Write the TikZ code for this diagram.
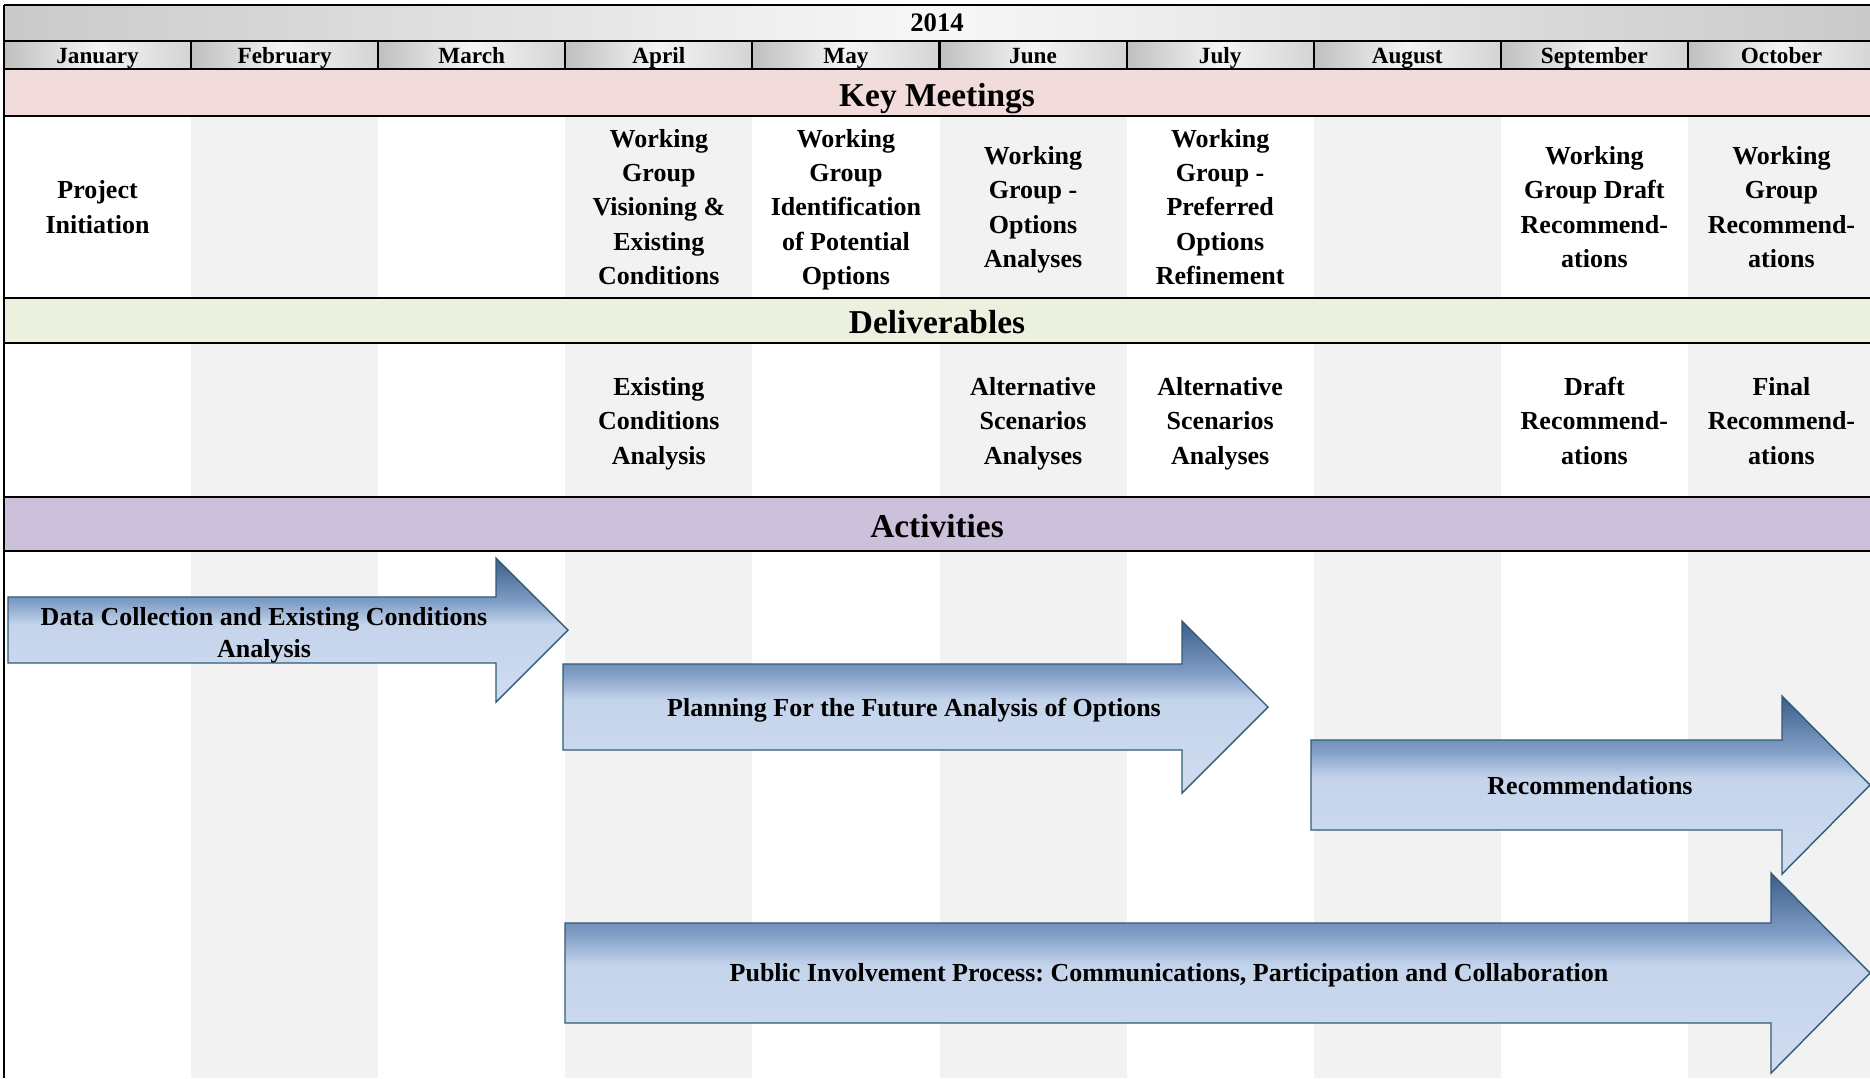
\documentclass[tikz,border=0pt]{standalone}
\usepackage{fontspec}
\setmainfont{Liberation Serif}
\frenchspacing

\definecolor{meetpink}{HTML}{F2DCDB}
\definecolor{delgreen}{HTML}{EBF1DE}
\definecolor{actpurple}{HTML}{CCC0DA}
\definecolor{colgray}{HTML}{F2F2F2}
\definecolor{arrowline}{HTML}{2F5C76}
\definecolor{arrowtop}{HTML}{3B5E89}
\definecolor{arrowmid}{HTML}{7F9CC5}
\definecolor{arrowlight}{HTML}{C4D4EB}
\definecolor{arrowbot}{HTML}{D0DCF0}

\pgfdeclareverticalshading{actshade}{100bp}{color(0bp)=(arrowbot); color(25bp)=(arrowbot);
  color(52bp)=(arrowlight); color(60bp)=(arrowmid); color(75bp)=(arrowtop); color(100bp)=(arrowtop)}

\newcommand{\cellfont}{\fontsize{7.4}{9.8}\selectfont\bfseries}
\newcommand{\monthfont}{\fontsize{6.6}{8}\selectfont\bfseries}
\newcommand{\yearfont}{\fontsize{7.6}{9}\selectfont\bfseries}
\newcommand{\bandfont}{\fontsize{9.5}{11}\selectfont\bfseries}

% body left, head start, tip, centre y, body half height, head half height
\newcommand{\actarrow}[6]{%
  \draw[actarrow] (#1,#4-#5) -- (#2,#4-#5) -- (#2,#4-#6) -- (#3,#4)
    -- (#2,#4+#6) -- (#2,#4+#5) -- (#1,#4+#5) -- cycle;}

\begin{document}
\begin{tikzpicture}[x=0.1mm,y=-0.1mm,
    cell/.style={align=center,font=\cellfont,inner sep=0pt},
    month/.style={font=\monthfont,inner sep=0pt,anchor=base},
    band/.style={font=\bandfont,inner sep=0pt,anchor=base},
    actarrow/.style={shading=actshade,draw=arrowline,line width=0.4pt,line join=miter},
    acttext/.style={align=center,font=\fontsize{7.4}{9.1}\selectfont\bfseries,inner sep=0pt},
    rule/.style={line width=0.6pt}]
    \useasboundingbox (0,0) rectangle (1870,1078);
    \fill[white] (0,0) rectangle (1870,1078);

    % Header rows
    \shade[left color=gray!42,right color=gray!42,middle color=gray!6] (4,5) rectangle (1870,41);
    \foreach \i in {1,...,10} {
        \shade[left color=gray!50,right color=gray!34,middle color=gray!8]
            ({4+187.1*(\i-1)},41) rectangle ({4+187.1*\i},69);
    }

    % Section bands
    \fill[meetpink] (4,69) rectangle (1870,116);
    \fill[delgreen] (4,298) rectangle (1870,343);
    \fill[actpurple] (4,497) rectangle (1870,551);

    % Shade every second month column
    \foreach \i in {2,4,6,8,10} {
        \fill[colgray] ({4+187.1*(\i-1)},116) rectangle ({4+187.1*\i},298);
        \fill[colgray] ({4+187.1*(\i-1)},343) rectangle ({4+187.1*\i},497);
        \fill[colgray] ({4+187.1*(\i-1)},551) rectangle ({4+187.1*\i},1078);
    }

    % Rules
    \foreach \y in {5,41,69,116,298,343,497,551}
        \draw[rule] (4,\y) -- (1870,\y);
    \draw[rule] (4,5) -- (4,1078);
    \foreach \i in {1,...,9}
        \draw[rule] ({4+187.1*\i},41) -- ({4+187.1*\i},69);

    % Year and months
    \node[month,font=\yearfont] (year) at (937,31) {2014};
    \foreach \m [count=\i] in {January,February,March,April,May,June,July,August,September,October}
        \node[month] (\m) at ({4+187.1*(\i-0.5)},63) {\m};

    % Band titles
    \node[band] (meetings) at (937,106) {Key Meetings};
    \node[band] (deliverables) at (937,333) {Deliverables};
    \node[band] (activities) at (937,537) {Activities};

    % Key meetings
    \foreach \i/\txt in {1/{Project\\Initiation},
                         4/{Working\\Group\\Visioning \&\\Existing\\Conditions},
                         5/{Working\\Group\\Identification\\of Potential\\Options},
                         6/{Working\\Group -\\Options\\Analyses},
                         7/{Working\\Group -\\Preferred\\Options\\Refinement},
                         9/{Working\\Group Draft\\Recommend-\\ations},
                         10/{Working\\Group\\Recommend-\\ations}}
        \node[cell] (meet\i) at ({4+187.1*(\i-0.5)},209) {\strut\txt\strut};

    % Deliverables
    \foreach \i/\txt in {4/{Existing\\Conditions\\Analysis},
                         6/{Alternative\\Scenarios\\Analyses},
                         7/{Alternative\\Scenarios\\Analyses},
                         9/{Draft\\Recommend-\\ations},
                         10/{Final\\Recommend-\\ations}}
        \node[cell] (del\i) at ({4+187.1*(\i-0.5)},423) {\strut\txt\strut};

    % Activities
    \actarrow{8}{496}{568}{630}{33}{72}
    \actarrow{563}{1182}{1268}{707}{43}{86}
    \actarrow{1311}{1782}{1870}{785}{45}{89}
    \actarrow{565}{1771}{1870}{973}{50}{100}

    \node[acttext] (datacoll) at (264,635) {\strut Data Collection and Existing Conditions\\Analysis\strut};
    \node[acttext] (planning) at (914,710) {\strut Planning For the Future Analysis of Options\strut};
    \node[acttext] (recommend) at (1590,788) {\strut Recommendations\strut};
    \node[acttext] (public) at (1169,975) {\strut Public Involvement Process: Communications, Participation and Collaboration\strut};
\end{tikzpicture}
\end{document}
